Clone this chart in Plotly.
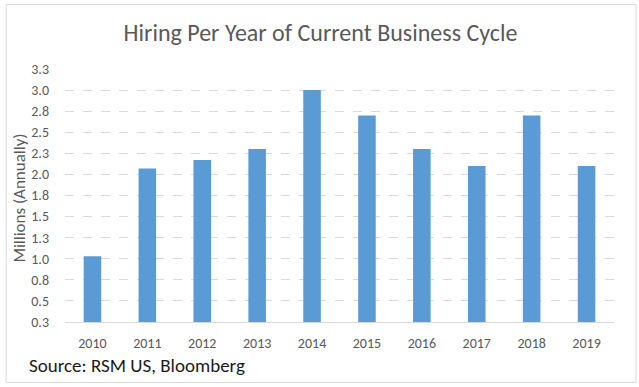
import plotly.graph_objects as go

years = ["2010", "2011", "2012", "2013", "2014", "2015", "2016", "2017", "2018", "2019"]
hiring = [1.03, 2.07, 2.17, 2.30, 3.00, 2.70, 2.30, 2.10, 2.70, 2.10]
y_tick_vals = [0.25, 0.5, 0.75, 1.0, 1.25, 1.5, 1.75, 2.0, 2.25, 2.5, 2.75, 3.0, 3.25]
y_tick_text = ["0.3", "0.5", "0.8", "1.0", "1.3", "1.5", "1.8", "2.0", "2.3", "2.5", "2.8", "3.0", "3.3"]
AXIS_BASE = 0.25

W, H = 639, 387
L, R, T, B = 65.4, 614.4, 69, 322

FONT = "Calibri, Carlito, Lato, sans-serif"
GRAY = "#595959"


def px(x):
    return (x - L) / (R - L)


def py(y):
    return (B - y) / (B - T)


fig = go.Figure(
    go.Bar(
        x=years,
        y=[v - AXIS_BASE for v in hiring],
        base=AXIS_BASE,
        marker=dict(color="#5B9BD5", line=dict(width=0)),
        hovertemplate="%{x}: %{customdata}<extra></extra>",
        customdata=hiring,
    )
)

fig.update_layout(
    width=W,
    height=H,
    margin=dict(l=L, r=W - R, t=T, b=H - B, pad=0),
    paper_bgcolor="white",
    plot_bgcolor="white",
    bargap=0.68,
    showlegend=False,
    font=dict(family=FONT, color=GRAY),
    title=dict(
        text="Hiring Per Year of Current Business Cycle",
        x=320.5 / W,
        xanchor="center",
        xref="container",
        y=1 - 33 / H,
        yanchor="middle",
        font=dict(family=FONT, size=24, color=GRAY),
    ),
    xaxis=dict(
        type="category",
        showgrid=False,
        showline=True,
        linecolor="#D9D9D9",
        linewidth=1,
        ticks="",
        tickfont=dict(family=FONT, size=14, color=GRAY),
        ticklabelstandoff=8,
    ),
    yaxis=dict(
        range=[0.25, 3.25],
        tickvals=y_tick_vals,
        ticktext=y_tick_text,
        showgrid=True,
        gridcolor="#D9D9D9",
        griddash="dash",
        gridwidth=1,
        zeroline=False,
        showline=False,
        ticks="",
        tickfont=dict(family=FONT, size=14, color=GRAY),
        ticklabelstandoff=15,
    ),
    shapes=[
        dict(
            type="rect",
            xref="paper",
            yref="paper",
            x0=px(6.5),
            x1=px(636.5),
            y0=py(4.5),
            y1=py(382.5),
            line=dict(color="#D9D9D9", width=1),
            fillcolor="rgba(0,0,0,0)",
            layer="below",
        )
    ],
    annotations=[
        dict(
            text="Millions (Annually)",
            xref="paper",
            yref="paper",
            x=px(20),
            y=py(198),
            xanchor="center",
            yanchor="middle",
            textangle=-90,
            showarrow=False,
            font=dict(family=FONT, size=17, color=GRAY),
        ),
        dict(
            text="Source: RSM US, Bloomberg",
            xref="paper",
            yref="paper",
            x=px(27),
            y=py(366),
            xanchor="left",
            yanchor="middle",
            showarrow=False,
            font=dict(family=FONT, size=19, color="#1a1a1a"),
        ),
    ],
)

fig.write_html(
    "out.html",
    config={"displayModeBar": False},
    post_script="document.body.style.margin='0';",
)
